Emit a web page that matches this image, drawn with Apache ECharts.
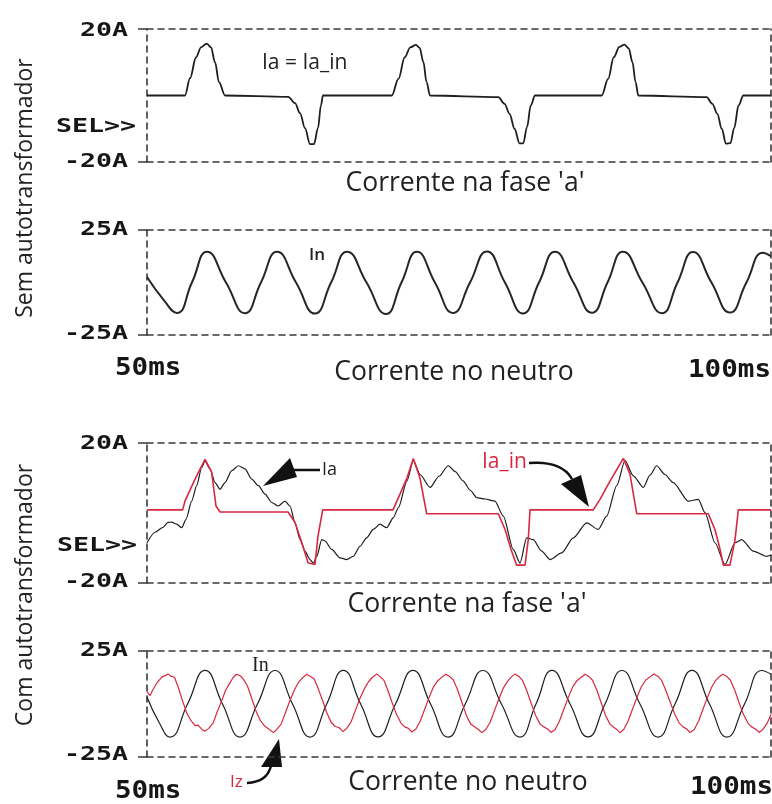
<!DOCTYPE html>
<html>
<head>
<meta charset="utf-8">
<script src="https://cdn.jsdelivr.net/npm/echarts@6/dist/echarts.min.js"></script>
<style>
html,body{margin:0;padding:0;background:#fff;}
#c{width:772px;height:804px;}
</style>
</head>
<body>
<div id="c"></div>
<script>
// ---------- DATA (time in ms, current in A) ----------
const timeRange = [50, 100];
const rangeFase = [-20, 20];
const rangeNeutro = [-25, 25];

// Panel 1: Sem autotransformador, corrente na fase 'a' (Ia = Ia_in)
const p1Time = [50.00, 53.04, 53.45, 53.93, 54.33, 54.78, 55.13, 55.45, 55.77, 56.25, 61.32, 61.86, 62.26, 62.66, 63.06, 63.38, 63.70, 63.94, 64.10, 69.61, 70.15, 70.65, 71.10, 71.55, 71.85, 72.15, 72.40, 72.68, 78.15, 78.65, 79.05, 79.45, 79.85, 80.15, 80.45, 80.75, 81.09, 86.43, 86.95, 87.40, 87.85, 88.25, 88.60, 88.90, 89.15, 89.37, 94.85, 95.30, 95.70, 96.05, 96.40, 96.75, 97.05, 97.40, 97.78, 100.00];
const p1Ia = [0, 0, 5.2, 11.5, 14.5, 15.6, 14.5, 10.0, 4.0, 0, -0.4, -2.3, -5.3, -9.8, -14.6, -14.6, -9.8, -3.0, 0, 0, 5.0, 11.5, 14.5, 15.2, 14.3, 10.0, 4.0, 0, -0.5, -2.5, -5.5, -10.0, -14.4, -14.4, -9.5, -3.0, 0, 0, 5.0, 11.5, 14.6, 15.3, 14.2, 10.0, 4.0, 0, -0.5, -2.5, -5.5, -10.0, -14.5, -14.3, -9.8, -3.0, 0, 0];

// Panel 2: Sem autotransformador, corrente no neutro (In)
const p2Time = [50.00, 51.30, 52.40, 53.60, 54.81, 56.33, 57.85, 59.13, 60.42, 61.94, 63.46, 64.75, 66.03, 67.59, 69.15, 70.39, 71.63, 73.07, 74.52, 75.88, 77.24, 78.68, 80.13, 81.41, 82.69, 84.17, 85.66, 86.90, 88.14, 89.70, 91.27, 92.51, 93.75, 95.23, 96.71, 98.03, 99.36, 100.00];
const p2In = [2.6, -8.0, -14.5, 0, 14.7, 0, -14.6, 0, 14.6, 0, -14.8, 0, 14.7, 0, -15.0, 0, 14.6, 0, -14.5, 0, 14.8, 0, -14.8, 0, 14.6, 0, -14.4, 0, 14.7, 0, -14.6, 0, 14.5, 0, -14.3, 0, 14.2, 12.5];

// Panel 3: Com autotransformador, corrente na fase 'a' (Ia black, Ia_in red)
const p3TimeIa = [50.00, 50.64, 51.28, 51.68, 51.98, 52.38, 52.78, 53.13, 53.58, 53.98, 54.38, 54.65, 55.05, 55.45, 55.85, 56.25, 56.79, 57.32, 57.85, 58.39, 58.92, 59.46, 59.99, 60.52, 61.06, 61.46, 61.86, 62.26, 62.66, 63.06, 63.33, 63.60, 64.00, 64.26, 64.80, 65.46, 66.00, 66.53, 67.07, 67.60, 68.13, 68.67, 69.21, 69.74, 70.14, 70.83, 71.34, 71.88, 72.68, 73.40, 74.14, 74.70, 75.32, 75.90, 76.42, 77.10, 77.88, 78.55, 79.35, 79.89, 80.42, 80.95, 81.60, 82.29, 83.23, 84.16, 85.23, 86.16, 86.83, 87.64, 88.30, 88.97, 89.77, 90.30, 90.84, 91.50, 92.17, 93.37, 94.18, 94.71, 95.51, 96.31, 97.12, 97.65, 98.58, 99.66, 100.00];
const p3Ia = [-8.5, -5.5, -4.1, -2.7, -2.6, -3.2, -4.2, -1.8, 3.4, 7.8, 13.0, 14.9, 12.6, 8.7, 6.8, 8.7, 12.1, 13.5, 12.6, 9.7, 7.8, 5.4, 3.0, 2.0, 3.4, 2.0, -2.8, -7.6, -10.9, -13.3, -14.3, -12.4, -7.6, -8.0, -10.4, -12.8, -13.3, -12.4, -9.5, -7.1, -4.7, -3.2, -4.2, -1.3, 1.5, 9.2, 15.0, 11.0, 7.3, 10.5, 13.5, 11.8, 9.2, 6.5, 4.4, 4.0, 3.4, -0.9, -10.4, -14.3, -7.1, -7.6, -10.8, -13.3, -11.4, -7.1, -2.8, -4.7, -0.9, 7.8, 15.0, 10.6, 7.3, 10.8, 13.5, 11.0, 8.7, 3.4, 3.9, 0.1, -8.5, -14.7, -8.5, -7.6, -10.9, -12.4, -12.0];
const p3TimeIaIn = [50.00, 52.86, 53.04, 53.85, 54.65, 55.18, 55.53, 55.85, 61.30, 61.86, 62.50, 62.90, 63.46, 63.70, 64.08, 69.71, 70.27, 70.83, 71.34, 71.87, 72.41, 78.15, 78.69, 79.17, 79.62, 80.29, 80.55, 80.69, 85.76, 86.30, 87.10, 88.17, 88.70, 89.24, 94.98, 95.51, 95.92, 96.18, 96.71, 97.12, 97.38, 100.00];
const p3IaIn = [0.9, 0.9, 3.4, 9.7, 15.3, 11.7, 2.0, 0.3, 0.3, -2.7, -9.5, -14.2, -14.7, -6.6, 0.9, 0.9, 5.4, 10.0, 15.6, 10.0, -0.2, -0.2, -4.7, -10.4, -14.9, -14.9, -7.6, 0.9, 0.9, 3.9, 9.1, 15.6, 11.1, -0.2, -0.2, -4.7, -10.4, -14.9, -14.9, -7.6, 0.9, 0.9];

// Panel 4: Com autotransformador, corrente no neutro (In black, Iz red)
const p4TimeIn = [50.00, 50.95, 51.84, 53.25, 54.65, 56.05, 57.45, 58.85, 60.26, 61.66, 63.06, 64.40, 65.73, 67.12, 68.51, 69.91, 71.31, 72.72, 74.12, 75.50, 76.92, 78.40, 79.89, 81.17, 82.45, 83.90, 85.34, 86.70, 88.06, 89.50, 90.95, 92.31, 93.67, 95.07, 96.47, 97.88, 99.28, 100.00];
const p4In = [3.3, -8.5, -15.6, 0, 15.9, 0, -15.6, 0, 15.8, 0, -15.6, 0, 15.9, 0, -15.5, 0, 15.9, 0, -15.6, 0, 15.8, 0, -15.6, 0, 15.9, 0, -15.5, 0, 15.8, 0, -15.6, 0, 15.9, 0, -15.6, 0, 15.8, 14.0];
const p4TimeIz = [50.00,50.25,50.45,50.80,51.20,51.50,51.68,51.95,52.20,52.50,52.85,53.20,53.55,53.85,54.10,54.40,54.65,54.95,55.30,55.60,55.95,56.30,56.60,56.90,57.19,57.50,57.75,58.05,58.40,58.75,59.10,59.45,59.75,60.12,60.40,60.75,61.10,61.45,61.80,62.10,62.45,62.80,63.10,63.40,63.70,64.05,64.40,64.75,65.05,65.40,65.71,66.00,66.35,66.70,67.05,67.40,67.75,68.05,68.41,68.70,69.00,69.30,69.65,70.00,70.35,70.65,70.95,71.23,71.55,71.90,72.25,72.60,72.95,73.30,73.65,73.96,74.25,74.55,74.90,75.25,75.60,75.95,76.30,76.55,76.84,77.15,77.50,77.85,78.20,78.55,78.90,79.20,79.49,79.80,80.10,80.45,80.80,81.15,81.50,81.80,82.10,82.37,82.70,83.05,83.40,83.75,84.10,84.45,84.80,85.10,85.40,85.70,86.05,86.40,86.75,87.10,87.40,87.65,87.90,88.20,88.55,88.90,89.25,89.60,89.95,90.30,90.63,90.95,91.25,91.60,91.95,92.30,92.65,92.95,93.25,93.51,93.85,94.20,94.55,94.90,95.25,95.55,95.85,96.15,96.45,96.75,97.10,97.45,97.80,98.15,98.45,98.75,99.04,99.35,99.70,100.00];
const p4Iz = [5.7,4.0,6.5,10.0,12.8,13.5,14.2,13.0,12.6,8.0,1.5,-4.5,-8.0,-10.2,-10.0,-12.0,-12.8,-11.5,-9.0,-4.0,1.0,6.5,9.5,12.5,14.0,13.2,11.5,8.5,2.5,-3.5,-8.0,-10.5,-11.8,-13.5,-12.0,-9.5,-4.0,1.5,6.5,9.8,12.3,14.0,13.0,11.8,7.5,2.0,-4.0,-8.5,-10.5,-11.2,-13.0,-11.5,-8.5,-3.0,2.5,7.0,10.5,12.5,14.2,12.8,11.0,6.5,0.5,-5.0,-9.0,-10.8,-11.5,-13.2,-11.8,-8.0,-2.5,3.0,8.0,11.0,12.8,14.0,13.0,11.3,6.5,0.5,-5.5,-9.5,-11.0,-12.0,-13.5,-12.0,-8.5,-3.0,2.5,7.5,10.8,12.8,14.2,13.0,11.0,6.0,0.0,-5.5,-9.5,-10.8,-11.8,-13.4,-12.0,-8.0,-2.5,3.0,8.0,11.0,12.6,14.0,13.0,11.2,6.5,0.5,-5.5,-9.5,-11.0,-12.0,-13.6,-12.0,-8.0,-2.5,3.0,8.0,11.2,12.8,14.2,13.0,11.0,6.0,0.5,-5.0,-9.0,-10.8,-11.8,-13.5,-12.0,-8.0,-2.5,3.0,8.0,11.0,12.8,14.0,13.0,11.2,6.5,0.5,-5.0,-9.0,-10.8,-11.8,-13.4,-12.0,-9.0,-5.0];

// Tick / axis label texts
const faseTicks = ["20A", "-20A"];
const neutroTicks = ["25A", "-25A"];
const selLabel = "SEL>>";
const timeTicks = ["50ms", "100ms"];
const titles = ["Corrente na fase 'a'", "Corrente no neutro"];
const sideLabels = ["Sem autotransformador", "Com autotransformador"];

// ---------- CHART ----------
const zip = (t, v) => t.map((x, i) => [x, v[i]]);
const chart = echarts.init(document.getElementById('c'), null, {renderer: 'canvas'});

const grids = [
  {left: 147, width: 624, top: 29, height: 133},
  {left: 147, width: 624, top: 230, height: 105},
  {left: 147, width: 624, top: 443, height: 140},
  {left: 147, width: 624, top: 651, height: 106}
];
const ranges = [rangeFase, rangeNeutro, rangeFase, rangeNeutro];
const dashLine = {show: true, onZero: false, lineStyle: {color: '#3a3a3a', width: 1.6, type: [6, 5]}};

const xAxes = [], yAxes = [];
grids.forEach((g, i) => {
  xAxes.push({type: 'value', gridIndex: i, min: timeRange[0], max: timeRange[1], position: 'bottom',
    axisLine: dashLine, axisTick: {show: false}, axisLabel: {show: false}, splitLine: {show: false}});
  xAxes.push({type: 'value', gridIndex: i, min: timeRange[0], max: timeRange[1], position: 'top',
    axisLine: dashLine, axisTick: {show: false}, axisLabel: {show: false}, splitLine: {show: false}});
  const r = ranges[i];
  yAxes.push({type: 'value', gridIndex: i, min: r[0], max: r[1], interval: r[1] - r[0], position: 'left',
    axisLine: dashLine, axisTick: {show: true, length: 9, lineStyle: {color: '#3a3a3a', width: 1.5}},
    axisLabel: {show: false}, splitLine: {show: false}});
  yAxes.push({type: 'value', gridIndex: i, min: r[0], max: r[1], interval: r[1] - r[0], position: 'right',
    axisLine: dashLine, axisTick: {show: false}, axisLabel: {show: false}, splitLine: {show: false}});
});

const BLACK = '#1e1e1e';
const RED = '#d8283f';
function line(gi, data, color, width, smooth, mono) {
  const s = {type: 'line', xAxisIndex: gi * 2, yAxisIndex: gi * 2, data: data, symbol: 'none',
    smooth: smooth, lineStyle: {color: color, width: width}, silent: true};
  if (mono) s.smoothMonotone = 'x';
  return s;
}
const series = [
  line(0, zip(p1Time, p1Ia), BLACK, 1.8, 0.35, true),
  line(1, zip(p2Time, p2In), '#262626', 2.0, 0.5, false),
  line(2, zip(p3TimeIa, p3Ia), BLACK, 1.2, 0.25, true),
  line(2, zip(p3TimeIaIn, p3IaIn), RED, 1.6, false, false),
  line(3, zip(p4TimeIn, p4In), BLACK, 1.2, 0.5, false),
  line(3, zip(p4TimeIz, p4Iz), RED, 1.2, false, false)
];

const MONO = '"DejaVu Sans Mono", monospace';
const SANS = '"Open Sans", "Noto Sans", sans-serif';
function monoText(text, x, y, size, sx, align) {
  return {type: 'text', x: x, y: y, scaleX: sx, silent: true,
    style: {text: text, fontFamily: MONO, fontWeight: 'bold', fontSize: size, fill: '#161616',
      textAlign: align, textVerticalAlign: 'middle', verticalAlign: 'middle'}};
}
function sansText(text, x, y, size, color, align, extra, weight) {
  return Object.assign({type: 'text', x: x, y: y, silent: true,
    style: {text: text, fontFamily: SANS, fontSize: size, fill: color, fontWeight: weight || 'normal',
      textAlign: align || 'center', textVerticalAlign: 'middle', verticalAlign: 'middle'}}, extra || {});
}

const graphic = [
  // tick labels
  monoText(faseTicks[0], 128, 31, 19, 1.4, 'right'),
  monoText(selLabel, 136, 127, 19, 1.4, 'right'),
  monoText(faseTicks[1], 128, 162, 19, 1.4, 'right'),
  monoText(neutroTicks[0], 128, 230, 19, 1.4, 'right'),
  monoText(neutroTicks[1], 128, 334, 19, 1.4, 'right'),
  monoText(timeTicks[0], 115, 369, 24, 1.15, 'left'),
  monoText(timeTicks[1], 771, 371, 24, 1.15, 'right'),
  monoText(faseTicks[0], 128, 444, 19, 1.4, 'right'),
  monoText(selLabel, 137, 546, 19, 1.4, 'right'),
  monoText(faseTicks[1], 128, 582, 19, 1.4, 'right'),
  monoText(neutroTicks[0], 128, 651, 19, 1.4, 'right'),
  monoText(neutroTicks[1], 128, 755, 19, 1.4, 'right'),
  monoText(timeTicks[0], 115, 792, 24, 1.15, 'left'),
  monoText(timeTicks[1], 773, 788, 24, 1.15, 'right'),
  // titles
  sansText(titles[0], 465, 183, 26.5, '#222'),
  sansText(titles[1], 454, 372, 26.5, '#222'),
  sansText(titles[0], 467, 604, 26.5, '#222'),
  sansText(titles[1], 468, 782, 26.5, '#222'),
  // side labels
  sansText(sideLabels[0], 25, 188, 23, '#222', 'center', {rotation: Math.PI / 2}),
  sansText(sideLabels[1], 25, 595, 23, '#222', 'center', {rotation: Math.PI / 2}),
  // annotations
  sansText('Ia = Ia_in', 262, 63, 21, '#222', 'left'),
  sansText('In', 309, 255, 17, '#222', 'left', {}, 600),
  sansText('Ia', 322, 470, 18, '#222', 'left'),
  {type: 'line', silent: true, shape: {x1: 292, y1: 470, x2: 320, y2: 470}, style: {stroke: '#111', lineWidth: 2.5}},
  {type: 'polygon', silent: true, shape: {points: [[263, 486], [290, 458], [297, 477]]}, style: {fill: '#111'}},
  sansText('Ia_in', 482, 462, 21, RED, 'left'),
  {type: 'bezierCurve', silent: true, shape: {x1: 529, y1: 463, cpx1: 552, cpy1: 461, cpx2: 566, cpy2: 468, x2: 572, y2: 479}, style: {stroke: '#111', lineWidth: 2.5, fill: null}},
  {type: 'polygon', silent: true, shape: {points: [[589, 507], [561, 484], [581, 475]]}, style: {fill: '#111'}},
  {type: 'text', x: 252, y: 666, silent: true, style: {text: 'In', fontFamily: '"Liberation Serif", "DejaVu Serif", serif', fontSize: 20, fill: '#222', textAlign: 'left', textVerticalAlign: 'middle', verticalAlign: 'middle'}},
  sansText('Iz', 230, 782, 17, RED, 'left'),
  {type: 'bezierCurve', silent: true, shape: {x1: 247, y1: 783, cpx1: 261, cpx2: 268, cpy1: 782, cpy2: 777, x2: 271, y2: 766}, style: {stroke: '#111', lineWidth: 2.5, fill: null}},
  {type: 'polygon', silent: true, shape: {points: [[279, 739], [261, 767], [282, 767]]}, style: {fill: '#111'}}
];

chart.setOption({
  animation: false,
  backgroundColor: '#ffffff',
  grid: grids,
  xAxis: xAxes,
  yAxis: yAxes,
  series: series,
  graphic: graphic
});
</script>
</body>
</html>
